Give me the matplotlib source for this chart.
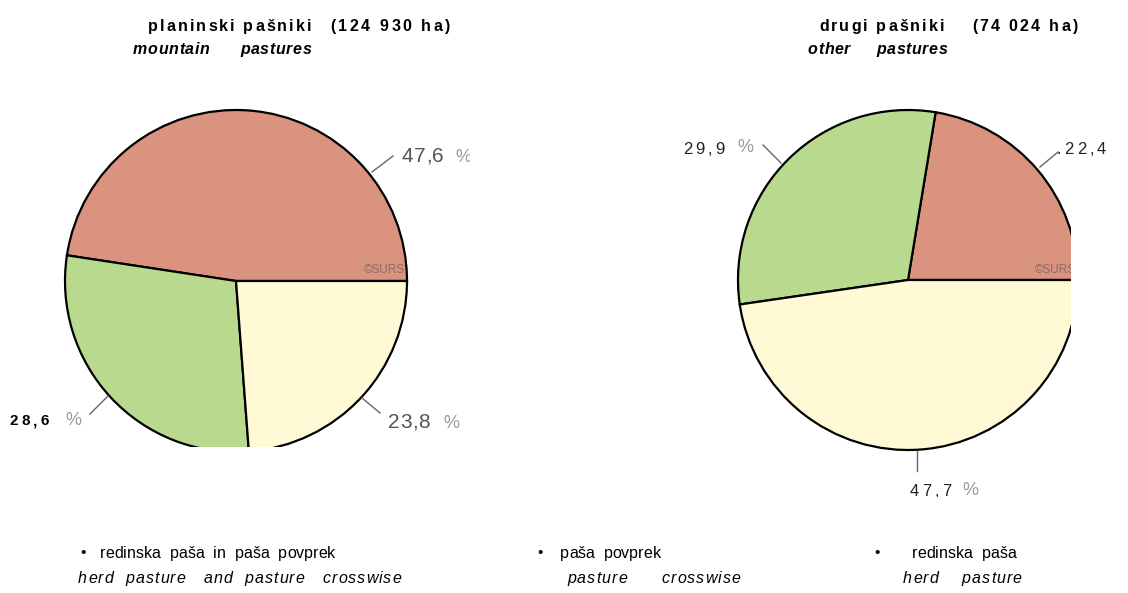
import matplotlib
matplotlib.use("Agg")
import matplotlib.pyplot as plt
from matplotlib.transforms import Bbox, TransformedBbox
from matplotlib import font_manager

# ---- data ----
mountain_values = [47.6, 28.6, 23.8]
other_values = [22.4, 29.9, 47.7]
slice_colors = ["#D9937E", "#B9D98F", "#FFF9D5"]

mountain_title = "planinski pašniki"
mountain_area = "(124 930 ha)"
mountain_subtitle = "mountain      pastures"
other_title = "drugi pašniki"
other_area = "(74 024 ha)"
other_subtitle = "other     pastures"

legend_sl = ["redinska  paša  in  paša  povprek", "paša  povprek", "redinska  paša"]
legend_en = ["herd  pasture   and  pasture   crosswise", "pasture      crosswise", "herd    pasture"]


def fmt(v):
    return f"{v:.1f}".replace(".", ",")


W, H = 1128, 593
fig = plt.figure(figsize=(W / 100, H / 100), dpi=100)


def Y(y):
    return H - y


# ---- left pie (bottom clipped at y=447 px) ----
ax_l = fig.add_axes([0, (H - 447) / H, 564 / W, 447 / H])
wl, _ = ax_l.pie(mountain_values, colors=slice_colors, startangle=0, counterclock=True,
                 center=(236, Y(281)), radius=171, frame=True,
                 wedgeprops=dict(edgecolor="black", linewidth=1.6))
for w in wl:
    w.set_clip_on(True)
ax_l.set_xlim(0, 564)
ax_l.set_ylim(Y(447), H)
ax_l.set_aspect("auto")
ax_l.axis("off")

# ---- right pie (right edge clipped at x=1071 px) ----
ax_r = fig.add_axes([564 / W, 0, (1071 - 564) / W, 1])
wr, _ = ax_r.pie(other_values, colors=slice_colors, startangle=0, counterclock=True,
                 center=(908, Y(280)), radius=170, frame=True,
                 wedgeprops=dict(edgecolor="black", linewidth=1.6))
for w in wr:
    w.set_clip_on(True)
ax_r.set_xlim(564, 1071)
ax_r.set_ylim(0, H)
ax_r.set_aspect("auto")
ax_r.axis("off")

# ---- overlay for text ----
ax = fig.add_axes([0, 0, 1, 1])
ax.set_xlim(0, W)
ax.set_ylim(0, H)
ax.axis("off")
ax.patch.set_visible(False)

renderer = fig.canvas.get_renderer()
sans = "Liberation Sans"
try:
    font_manager.findfont("Liberation Sans Narrow", fallback_to_default=False)
    narrow, narrow_size = "Liberation Sans Narrow", 13.5
except Exception:
    narrow, narrow_size = sans, 11.5


def tracked(x, y, s, track, clipbox=None, **kw):
    """Draw text with extra letter spacing (track px), baseline at y (pixel, y-down)."""
    probe = ax.text(0, 0, "l", **kw)
    base_w = probe.get_window_extent(renderer).width
    probe.remove()
    arts = []
    for i, ch in enumerate(s):
        if ch == " ":
            continue
        p = ax.text(0, 0, s[:i] + "l", **kw)
        off = p.get_window_extent(renderer).width - base_w if i > 0 else 0
        p.remove()
        t = ax.text(x + off + i * track, Y(y), ch, va="baseline", ha="left", **kw)
        if clipbox is not None:
            t.set_clip_box(clipbox)
            t.set_clip_on(True)
        arts.append(t)
    return arts


def pxbox(x0, y0, x1, y1):
    return TransformedBbox(Bbox.from_extents(x0, Y(y1), x1, Y(y0)), ax.transData)


gray = "#555555"
lgray = "#9a9a9a"

# ---- ©SURS ----
ax_l.text(405, Y(270), "©SURS", fontsize=8.5, color="#8a6e66", ha="right", va="center",
          family=sans, clip_on=True)
ax_r.text(1076, Y(270), "©SURS", fontsize=8.5, color="#8a6e66", ha="right", va="center",
          family=sans, clip_on=True)

# ---- leader lines ----
lines = [((372, 172), (393, 156)), ((362, 398), (380, 413)), ((90, 414), (108, 396)),
         ((763, 145), (781, 163)), ((1040, 167), (1058, 152)), ((917, 451), (917, 471))]
for (x0, y0), (x1, y1) in lines:
    ax.plot([x0, x1], [Y(y0), Y(y1)], color="#666666", lw=1.0, clip_on=False)

# ---- value labels ----
tracked(402, 162, fmt(mountain_values[0]), 0.5, fontsize=15, color=gray, family=sans)
tracked(455, 162, "%", 0, clipbox=pxbox(0, 0, 470, H), fontsize=13, color=lgray, family=sans)

tracked(388, 428, fmt(mountain_values[2]), 0.5, fontsize=15, color=gray, family=sans)
tracked(443, 428, "%", 0, fontsize=13, color=lgray, family=sans)

tracked(10, 425, fmt(mountain_values[1]), 3.2, fontsize=11, color="black", family=sans,
        fontweight="bold")
tracked(65, 425, "%", 0, fontsize=13, color=lgray, family=sans)

tracked(683, 154, fmt(other_values[1]), 3, fontsize=12, color="#222222", family=sans)
tracked(737, 152, "%", 0, fontsize=13, color=lgray, family=sans)

tracked(1057, 154, "." + fmt(other_values[0]), 3, fontsize=12, color="#222222", family=sans)

cb = pxbox(564, 0, W, 497)
tracked(910, 496, fmt(other_values[2]), 3, clipbox=cb, fontsize=12, color="#222222", family=sans)
tracked(962, 495, "%", 0, clipbox=cb, fontsize=13, color=lgray, family=sans)

# ---- titles ----
tracked(148, 31, mountain_title, 2.1, fontsize=11.5, fontweight="bold", color="black", family=sans)
tracked(330, 31, mountain_area, 2.6, fontsize=11.5, fontweight="bold", color="black", family=sans)
tracked(133, 54, mountain_subtitle, 0.6, fontsize=11.5, fontweight="bold", style="italic",
        color="black", family=sans)
tracked(819, 31, other_title, 2.1, fontsize=11.5, fontweight="bold", color="black", family=sans)
tracked(972, 31, other_area, 2.3, fontsize=11.5, fontweight="bold", color="black", family=sans)
tracked(808, 54, other_subtitle, 0.6, fontsize=11.5, fontweight="bold", style="italic",
        color="black", family=sans)

# ---- legend ----
bx = [83, 540, 877]
sx = [100, 560, 912]
ex = [78, 567, 903]
for i in range(3):
    ax.text(bx[i], Y(553), "•", fontsize=11, ha="center", va="center", family=sans)
    tracked(sx[i], 558, legend_sl[i], 0.0, fontsize=narrow_size, color="black", family=narrow)
    tracked(ex[i], 583, legend_en[i], 1.1, fontsize=narrow_size, style="italic", color="black",
            family=narrow)

fig.savefig("out.png", dpi=100)
